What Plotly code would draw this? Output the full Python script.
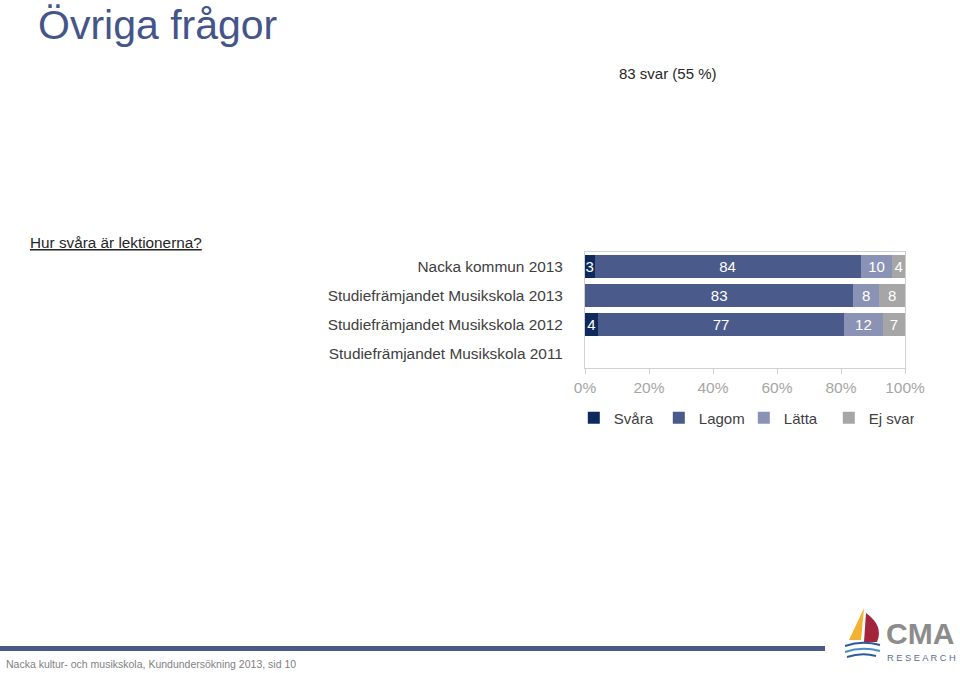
import plotly.graph_objects as go

categories = ["Nacka kommun 2013", "Studiefrämjandet Musikskola 2013",
              "Studiefrämjandet Musikskola 2012", "Studiefrämjandet Musikskola 2011"]
series_names = ["Svåra", "Lagom", "Lätta", "Ej svar"]
svara = [3, 0, 4, None]
lagom = [84, 83, 77, None]
latta = [10, 8, 12, None]
ej_svar = [4, 8, 7, None]
tick_vals = [0, 20, 40, 60, 80, 100]
tick_text = ["0%", "20%", "40%", "60%", "80%", "100%"]

colors = ["#0E2A5C", "#4A5A8A", "#8A93B5", "#A6A6A6"]
values = [svara, lagom, latta, ej_svar]

W, H = 960, 673
PL, PR, PT, PB = 585, 905, 252, 368
FONT = "Liberation Sans, Arial, sans-serif"


def px(x):
    return (x - PL) / (PR - PL)


def py(y):
    return (PB - y) / (PB - PT)


fig = go.Figure()
for name, vals, col in zip(series_names, values, colors):
    fig.add_trace(go.Bar(
        name=name, y=categories, x=vals, orientation="h",
        marker=dict(color=col, line=dict(width=0)),
        text=[("" if (v is None or v == 0) else str(v)) for v in vals],
        textposition="inside", insidetextanchor="middle",
        textfont=dict(color="white", size=15, family=FONT),
        cliponaxis=True,
    ))

annotations = [
    dict(text="Övriga frågor", x=px(36), y=py(25), xref="paper", yref="paper",
         xanchor="left", yanchor="middle", showarrow=False,
         font=dict(size=41, color="#44558A", family=FONT)),
    dict(text="83 svar (55 %)", x=px(617), y=py(73), xref="paper", yref="paper",
         xanchor="left", yanchor="middle", showarrow=False,
         font=dict(size=15, color="#262626", family=FONT)),
    dict(text="<u>Hur svåra är lektionerna?</u>", x=px(28), y=py(242), xref="paper", yref="paper",
         xanchor="left", yanchor="middle", showarrow=False,
         font=dict(size=15.3, color="#262626", family=FONT)),
    dict(text="Nacka kultur- och musikskola, Kundundersökning 2013, sid 10", x=px(4), y=py(664),
         xref="paper", yref="paper", xanchor="left", yanchor="middle", showarrow=False,
         font=dict(size=10.5, color="#7F7F7F", family="Liberation Sans Narrow, Liberation Sans, Arial")),
    dict(text="<b>CMA</b>", x=px(885), y=py(651), xref="paper", yref="paper",
         xanchor="left", yanchor="bottom", showarrow=False, borderpad=0,
         font=dict(size=30, color="#8C8C8C", family=FONT)),
    dict(text="R E S E A R C H", x=px(886), y=py(651.5), xref="paper", yref="paper",
         xanchor="left", yanchor="top", showarrow=False, borderpad=0,
         font=dict(size=9.3, color="#5A6E96", family=FONT)),
]

shapes = [
    dict(type="rect", xref="paper", yref="paper", x0=px(0), x1=px(825), y0=py(651), y1=py(646),
         fillcolor="#4A5A8A", line=dict(width=0)),
    # logo sail
    dict(type="path", xref="paper", yref="paper",
         path=f"M {px(864)},{py(608)} L {px(849)},{py(640)} L {px(861)},{py(640)} Z",
         fillcolor="#F2B233", line=dict(width=0)),
    dict(type="path", xref="paper", yref="paper",
         path=f"M {px(866)},{py(613)} Q {px(884)},{py(626)} {px(877)},{py(642)} L {px(864)},{py(642)} Z",
         fillcolor="#A3253A", line=dict(width=0)),
    dict(type="path", xref="paper", yref="paper",
         path=f"M {px(845)},{py(646)} Q {px(862)},{py(640)} {px(880)},{py(645)}",
         line=dict(color="#2E5A9C", width=2)),
    dict(type="path", xref="paper", yref="paper",
         path=f"M {px(845)},{py(652)} Q {px(862)},{py(646)} {px(880)},{py(651)}",
         line=dict(color="#4C8CC8", width=2)),
    dict(type="path", xref="paper", yref="paper",
         path=f"M {px(847)},{py(657)} Q {px(862)},{py(652)} {px(876)},{py(656)}",
         line=dict(color="#2E5A9C", width=2)),
]

fig.update_layout(
    width=W, height=H,
    margin=dict(l=PL, r=W - PR, t=PT, b=H - PB, pad=0),
    paper_bgcolor="white", plot_bgcolor="white",
    barmode="stack", barnorm="percent", bargap=0.2,
    font=dict(family=FONT, color="#404040", size=15),
    uniformtext=dict(minsize=15, mode="show"),
    showlegend=True,
    legend=dict(orientation="h", x=-0.035, y=py(418), xanchor="left", yanchor="middle",
                traceorder="normal", font=dict(size=15, color="#404040", family=FONT),
                itemwidth=30, entrywidth=40, bgcolor="rgba(0,0,0,0)"),
    xaxis=dict(range=[0, 100], tickvals=tick_vals, ticktext=tick_text,
               showgrid=False, zeroline=False, showline=True, mirror=True,
               linecolor="#D0D0D0", linewidth=1, ticks="outside", ticklen=5,
               tickcolor="#D0D0D0", tickfont=dict(size=15.5, color="#A6A6A6", family=FONT),
               fixedrange=True),
    yaxis=dict(categoryorder="array", categoryarray=categories[::-1],
               showgrid=False, zeroline=False, showline=True, mirror=True,
               linecolor="#D0D0D0", linewidth=1, ticks="", ticklabelstandoff=18,
               tickfont=dict(size=15.4, color="#404040", family=FONT)),
    annotations=annotations, shapes=shapes,
)

fig.write_html("out.html")
